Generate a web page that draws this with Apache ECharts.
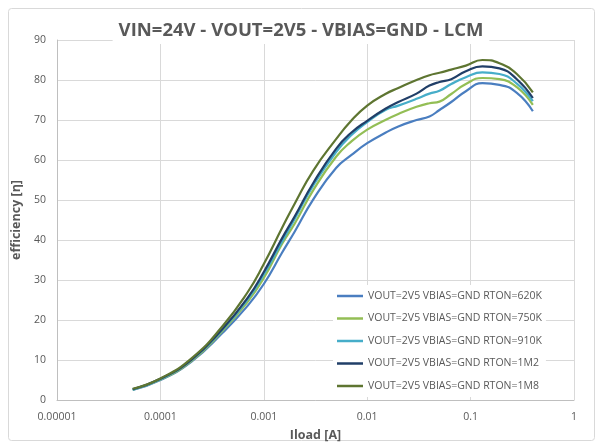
<!DOCTYPE html>
<html>
<head>
<meta charset="utf-8">
<title>Efficiency vs load</title>
<script src="https://cdn.jsdelivr.net/npm/echarts@6/dist/echarts.min.js"></script>
<style>
  html, body { margin: 0; padding: 0; background: #ffffff; }
  #chart { width: 602px; height: 447px; }
</style>
</head>
<body>
<div id="chart"></div>
<script>
// Load current [A] shared by every curve
const load = [5.4e-5, 1e-4, 2e-4, 4e-4, 7e-4, 1e-3, 1.5e-3, 2e-3, 3e-3, 5e-3, 7e-3,
              0.01, 0.015, 0.02, 0.03, 0.04, 0.05, 0.065, 0.09, 0.13, 0.19, 0.28, 0.40];

// Efficiency [%] per RTON setting
const eff620K = [2.5, 5.0, 9.6, 16.8, 23.6, 29.0, 36.8, 42.2, 50.1, 58.0, 61.2,
                 64.2, 66.8, 68.4, 70.0, 70.9, 72.5, 74.5, 77.2, 79.2, 78.8, 76.8, 72.2];
const eff750K = [2.6, 5.1, 9.8, 17.3, 24.6, 30.5, 39.0, 44.2, 52.4, 60.8, 64.6,
                 67.6, 70.0, 71.5, 73.3, 74.2, 74.6, 76.5, 79.0, 80.5, 80.2, 78.2, 73.8];
const eff910K = [2.6, 5.2, 10.0, 17.6, 25.2, 31.4, 39.6, 45.4, 53.6, 62.0, 66.2,
                 69.5, 72.5, 73.6, 75.3, 76.6, 77.3, 79.0, 80.7, 81.9, 81.5, 79.1, 74.7];
const eff1M2 = [2.7, 5.3, 10.1, 17.8, 25.6, 32.0, 40.4, 46.0, 54.2, 62.8, 66.8,
                69.8, 72.8, 74.5, 76.6, 78.6, 79.5, 80.2, 82.2, 83.4, 82.9, 80.2, 75.5];
const eff1M8 = [2.8, 5.4, 10.4, 18.5, 27.0, 34.0, 43.0, 49.2, 57.3, 65.2, 69.8,
                73.6, 76.5, 78.0, 80.0, 81.2, 81.8, 82.6, 83.6, 85.0, 84.2, 81.5, 76.9];

const seriesNames = [
  'VOUT=2V5 VBIAS=GND RTON=620K',
  'VOUT=2V5 VBIAS=GND RTON=750K',
  'VOUT=2V5 VBIAS=GND RTON=910K',
  'VOUT=2V5 VBIAS=GND RTON=1M2',
  'VOUT=2V5 VBIAS=GND RTON=1M8'
];
const seriesValues = [eff620K, eff750K, eff910K, eff1M2, eff1M8];
const seriesColors = ['#4a7ec0', '#93be55', '#46adc9', '#213f68', '#5e7531'];

// Tick labels of the logarithmic load axis, one per decade
const xTickLabels = ['0.00001', '0.0001', '0.001', '0.01', '0.1', '1'];

const titleText = 'VIN=24V - VOUT=2V5 - VBIAS=GND - LCM';
const xName = 'Iload [A]';
const yName = 'efficiency [\u03B7]';

const FONT = 'Open Sans';
const TXT = '#595959';

const chart = echarts.init(document.getElementById('chart'), null, { renderer: 'canvas' });

const series = seriesNames.map((name, i) => ({
  name: name,
  type: 'line',
  data: load.map((x, k) => [x, seriesValues[i][k]]),
  smooth: 0.5,
  showSymbol: false,
  symbol: 'none',
  lineStyle: { width: 2.2, color: seriesColors[i] },
  itemStyle: { color: seriesColors[i] },
  z: 2 + i
}));

chart.setOption({
  animation: false,
  backgroundColor: '#ffffff',
  graphic: [{
    type: 'rect',
    shape: { x: 8.5, y: 8.5, width: 586, height: 432, r: 3 },
    style: { fill: 'none', stroke: '#d9d9d9', lineWidth: 1 },
    silent: true,
    z: -10
  }],
  title: {
    text: titleText,
    left: 'center',
    top: 18,
    padding: [3, 6, 4, 6],
    backgroundColor: '#ffffff',
    textStyle: { fontFamily: FONT, fontSize: 18.5, fontWeight: 'bold', color: TXT }
  },
  legend: {
    orient: 'vertical',
    left: 333,
    top: 285,
    padding: [4, 4, 4, 4],
    backgroundColor: '#ffffff',
    icon: 'rect',
    itemWidth: 26,
    itemHeight: 2.5,
    itemGap: 8.5,
    textStyle: { fontFamily: FONT, fontSize: 10.5, color: TXT, lineHeight: 14 },
    data: seriesNames,
    z: 20
  },
  grid: { left: 57, right: 28, top: 40, bottom: 43, containLabel: false },
  xAxis: {
    type: 'log',
    logBase: 10,
    min: 0.00001,
    max: 1,
    name: xName,
    nameLocation: 'middle',
    nameGap: 29,
    nameTextStyle: { fontFamily: FONT, fontSize: 12.5, fontWeight: 'bold', color: TXT },
    axisLine: { show: true, lineStyle: { color: '#bfbfbf', width: 1 } },
    axisTick: { show: false },
    axisLabel: {
      fontFamily: FONT, fontSize: 10.5, color: TXT, margin: 12,
      formatter: v => xTickLabels[Math.round(Math.log10(v)) + 5]
    },
    splitLine: { show: true, lineStyle: { color: '#d9d9d9', width: 1 } }
  },
  yAxis: {
    type: 'value',
    min: 0,
    max: 90,
    interval: 10,
    name: yName,
    nameLocation: 'middle',
    nameGap: 23,
    nameTextStyle: { fontFamily: FONT, fontSize: 12.5, fontWeight: 'bold', color: TXT },
    axisLine: { show: true, lineStyle: { color: '#bfbfbf', width: 1 } },
    axisTick: { show: false },
    axisLabel: { fontFamily: FONT, fontSize: 10.5, color: TXT, margin: 11 },
    splitLine: { show: true, lineStyle: { color: '#d9d9d9', width: 1 } }
  },
  series: series
});
</script>
</body>
</html>
